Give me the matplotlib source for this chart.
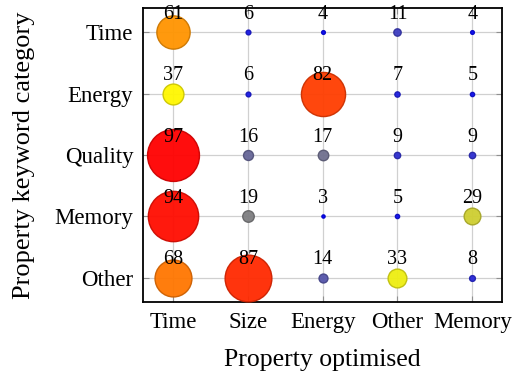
import numpy as np
import matplotlib
matplotlib.use("Agg")
from matplotlib import pyplot as plt
from matplotlib.colors import LinearSegmentedColormap, Normalize

plt.rcParams['font.family'] = ['Liberation Serif', 'DejaVu Serif']

optimised = ["Time", "Size", "Energy", "Other", "Memory"]
keyword_category = ["Time", "Energy", "Quality", "Memory", "Other"]

# counts per keyword category (rows) and optimised property (columns)
time_row = [61, 6, 4, 11, 4]
energy_row = [37, 6, 82, 7, 5]
quality_row = [97, 16, 17, 9, 9]
memory_row = [94, 19, 3, 5, 29]
other_row = [68, 87, 14, 33, 8]

counts = np.array([time_row, energy_row, quality_row, memory_row, other_row])

cmap = LinearSegmentedColormap.from_list(
    "byr", [(0.0, "blue"), (0.34, "yellow"), (1.0, "red")])
norm = Normalize(vmin=counts.min(), vmax=counts.max())

fig, ax = plt.subplots(figsize=(5.13, 3.80), dpi=100)
fig.subplots_adjust(left=0.279, right=0.979, top=0.979, bottom=0.205)

ax.set_axisbelow(True)
ax.grid(True, color="#d0d0d0", linewidth=0.9)

for i, row in enumerate(counts):
    y = len(keyword_category) - 1 - i
    for j, v in enumerate(row):
        face = np.array(cmap(norm(v)))
        edge = face.copy()
        edge[:3] *= 0.8
        # marker diameter grows linearly with the count
        d = 1.2 + 0.373 * v
        ax.scatter(j, y, s=d ** 2, color=face, edgecolors=[edge], linewidths=1.0,
                   alpha=0.95, zorder=3)
        ax.annotate(str(v), (j, y), xytext=(0, 6), textcoords="offset points",
                    ha="center", va="bottom", fontsize=14.5, zorder=4)

ax.set_xlim(-0.4, 4.4)
ax.set_ylim(-0.4, 4.4)
ax.set_xticks(range(len(optimised)))
ax.set_xticklabels(optimised)
ax.set_yticks(range(len(keyword_category)))
ax.set_yticklabels(keyword_category[::-1])
ax.tick_params(direction="in", length=4, color="#909090", labelsize=16.5,
               top=True, right=True, pad=7)
for s in ax.spines.values():
    s.set_linewidth(1.3)

ax.set_xlabel("Property optimised", fontsize=18.5, labelpad=12)
ax.set_ylabel("Property keyword category", fontsize=19, labelpad=14)

fig.savefig("out.png", dpi=100)
